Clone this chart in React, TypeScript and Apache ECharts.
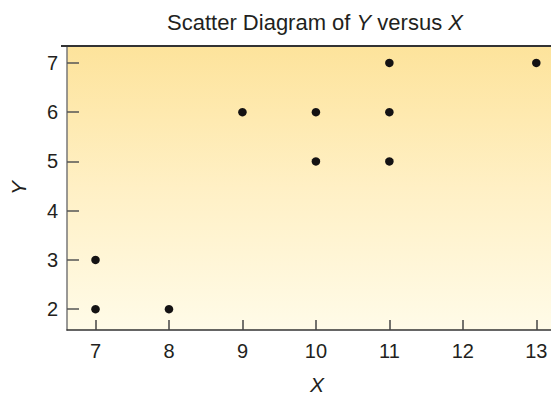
import React, { useEffect, useRef } from "react";
import * as echarts from "echarts";

const xValues = [7, 7, 8, 9, 10, 10, 11, 11, 11, 13];
const yValues = [2, 3, 2, 6, 6, 5, 7, 6, 5, 7];
const xTicks = [7, 8, 9, 10, 11, 12, 13];
const yTicks = [2, 3, 4, 5, 6, 7];
const xRange = [6.612, 13.2];
const yRange = [1.577, 7.343];

const FONT = "'Liberation Sans', Arial, sans-serif";

export default function App() {
  const ref = useRef<HTMLDivElement>(null);
  useEffect(() => {
    if (!ref.current) return;
    const chart = echarts.init(ref.current, null, { renderer: "svg" });
    const points = xValues.map((x, i) => [x, yValues[i]]);
    chart.setOption({
      animation: false,
      title: {
        text: "Scatter Diagram of {i|Y} versus {i|X}",
        left: 310,
        textAlign: "center",
        top: 6,
        textStyle: {
          fontFamily: FONT,
          fontSize: 22,
          fontWeight: "normal",
          color: "#231f20",
          rich: {
            i: { fontFamily: FONT, fontSize: 22, fontStyle: "italic", color: "#231f20" },
          },
        },
      },
      grid: {
        left: 61,
        top: 46,
        right: -2,
        bottom: 68,
        show: true,
        borderWidth: 0,
        backgroundColor: new echarts.graphic.LinearGradient(0, 0, 0, 1, [
          { offset: 0, color: "#fde39b" },
          { offset: 0.5, color: "#fff0c5" },
          { offset: 1, color: "#fffbe8" },
        ]),
      },
      xAxis: {
        type: "value",
        min: xRange[0],
        max: xRange[1],
        name: "X",
        nameLocation: "middle",
        nameGap: 44,
        nameTextStyle: {
          fontFamily: FONT,
          fontSize: 21,
          fontStyle: "italic",
          color: "#231f20",
          padding: [0, 0, 0, 16],
        },
        splitLine: { show: false },
        axisLine: { show: true, onZero: false, lineStyle: { color: "#333", width: 1.5 } },
        axisTick: {
          inside: true,
          length: 10,
          customValues: xTicks,
          lineStyle: { color: "#444", width: 1.5 },
        },
        axisLabel: {
          customValues: xTicks,
          margin: 11,
          fontFamily: FONT,
          fontSize: 20,
          color: "#231f20",
        },
      },
      yAxis: {
        type: "value",
        min: yRange[0],
        max: yRange[1],
        name: "Y",
        nameLocation: "middle",
        nameRotate: 90,
        nameGap: 38,
        nameTextStyle: {
          fontFamily: FONT,
          fontSize: 21,
          fontStyle: "italic",
          color: "#231f20",
        },
        splitLine: { show: false },
        axisLine: { show: true, onZero: false, lineStyle: { color: "#777", width: 1.5 } },
        axisTick: {
          inside: true,
          length: 12,
          customValues: yTicks,
          lineStyle: { color: "#555", width: 1.5 },
        },
        axisLabel: {
          customValues: yTicks,
          margin: 9,
          fontFamily: FONT,
          fontSize: 20,
          color: "#231f20",
        },
      },
      graphic: [
        {
          type: "line",
          shape: { x1: 61, y1: 46, x2: 551, y2: 46 },
          style: { stroke: "#333", lineWidth: 2 },
          z: 10,
        },
      ],
      series: [
        {
          type: "scatter",
          data: points,
          symbolSize: 8.5,
          itemStyle: { color: "#141213", opacity: 1 },
        },
      ],
    });
    return () => chart.dispose();
  }, []);
  return (
    <div
      ref={ref}
      style={{ position: "fixed", left: 0, top: 0, width: 551, height: 400, background: "#fff" }}
    />
  );
}
